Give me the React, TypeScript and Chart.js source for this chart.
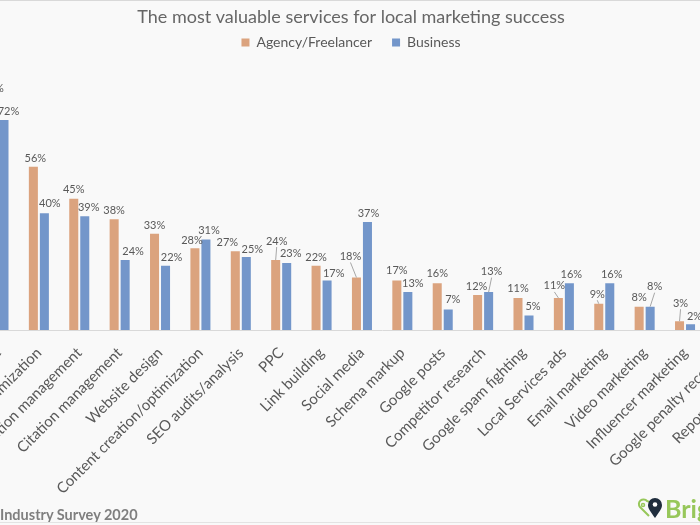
import React, { useEffect, useRef } from "react";
import { Chart, registerables } from "chart.js";

Chart.register(...registerables);

const titleText = "The most valuable services for local marketing success";
const seriesNames = ["Agency/Freelancer", "Business"];

const categories = [
  "Google My Business management",
  "Website optimization",
  "Reputation management",
  "Citation management",
  "Website design",
  "Content creation/optimization",
  "SEO audits/analysis",
  "PPC",
  "Link building",
  "Social media",
  "Schema markup",
  "Google posts",
  "Competitor research",
  "Google spam fighting",
  "Local Services ads",
  "Email marketing",
  "Video marketing",
  "Influencer marketing",
  "Google penalty recovery",
  "Reporting/analytics",
];

const agencyValues = [80, 56, 45, 38, 33, 28, 27, 24, 22, 18, 17, 16, 12, 11, 11, 9, 8, 3, 2, 1];
const businessValues = [72, 40, 39, 24, 22, 31, 25, 23, 17, 37, 13, 7, 13, 5, 16, 16, 8, 2, 2, 1];

// label placement (dx, distance above bar top) – presentation only
const agencyLabelShift = [
  [0, 8.5], [2, 8.5], [0, 9], [0, 9], [0, 8.5], [-3, 7.5], [-8, 8.3], [1, 19], [0, 8.7], [-6, 21],
  [0, 9.5], [0, 9.5], [-1, 8.7], [0, 9], [-4, 12], [-1.5, 9.5], [0, 9.3], [1, 18], [0, 8.5], [0, 8.5],
];
const businessLabelShift = [
  [4.5, 9], [5.5, 10], [4, 8.4], [8, 8.4], [6, 8.5], [3, 9], [6, 7.7], [4, 9.7], [6.6, 7], [1, 8.6],
  [5, 8.6], [4.5, 10.4], [3, 20.5], [4, 8.5], [2, 8.5], [2, 8.5], [4.5, 20], [4, 7.7], [4, 8.5], [4, 8.5],
];
const agencyLeader = [0, 0, 0, 0, 0, 0, 0, 1, 0, 1, 0, 0, 0, 0, 1, 1, 0, 1, 0, 0];
const businessLeader = [0, 0, 0, 0, 0, 0, 0, 0, 0, 0, 0, 0, 1, 0, 0, 0, 1, 0, 0, 0];

const labelShifts = [agencyLabelShift, businessLabelShift];
const leaderFlags = [agencyLeader, businessLeader];

const valueLabels = {
  id: "valueLabels",
  afterDatasetsDraw(chart: any) {
    const ctx = chart.ctx;
    ctx.save();
    ctx.font = "11px Lato";
    ctx.fillStyle = "#595959";
    ctx.textAlign = "center";
    ctx.textBaseline = "middle";
    ctx.strokeStyle = "#a6a6a6";
    ctx.lineWidth = 1;
    chart.data.datasets.forEach((ds: any, di: number) => {
      const meta = chart.getDatasetMeta(di);
      meta.data.forEach((bar: any, i: number) => {
        const [dx, dy] = labelShifts[di][i];
        const lx = bar.x + dx;
        const ly = bar.y - dy;
        ctx.fillText(ds.data[i] + "%", lx, ly);
        if (leaderFlags[di][i]) {
          ctx.beginPath();
          ctx.moveTo(lx, ly + 6);
          ctx.lineTo(bar.x, bar.y);
          ctx.stroke();
        }
      });
    });
    ctx.restore();
  },
};

export default function App() {
  const ref = useRef<HTMLCanvasElement>(null);
  useEffect(() => {
    if (!ref.current) return;
    const chart = new Chart(ref.current, {
      type: "bar",
      data: {
        labels: categories,
        datasets: [
          {
            label: seriesNames[0],
            data: agencyValues,
            backgroundColor: "#DBA37E",
            categoryPercentage: 0.545,
            barPercentage: 0.82,
          },
          {
            label: seriesNames[1],
            data: businessValues,
            backgroundColor: "#7396CA",
            categoryPercentage: 0.545,
            barPercentage: 0.82,
          },
        ],
      },
      options: {
        responsive: false,
        animation: false,
        layout: { padding: 0 },
        plugins: {
          title: {
            display: true,
            text: titleText,
            color: "#666666",
            font: { family: "Lato", size: 18, weight: "normal" },
            padding: { top: 6, bottom: -12 },
          },
          legend: {
            labels: {
              boxWidth: 8,
              boxHeight: 8,
              color: "#595959",
              font: { family: "Lato", size: 14 },
              padding: 20,
            },
          },
          tooltip: { enabled: false },
        },
        scales: {
          x: {
            grid: { display: false, drawTicks: false },
            border: { color: "#d9d9d9" },
            ticks: {
              autoSkip: false,
              maxRotation: 45,
              minRotation: 45,
              color: "#595959",
              font: { family: "Lato", size: 15 },
              padding: 14,
            },
            afterFit: (s: any) => {
              s.height = 195;
              s.paddingLeft = 0;
              s.paddingRight = 0;
            },
          },
          y: {
            min: 0,
            max: 92.7,
            grid: { display: false },
            border: { display: false },
            ticks: { display: false },
            afterFit: (s: any) => {
              s.width = 62.3;
            },
          },
        },
      },
      plugins: [valueLabels],
    });
    return () => chart.destroy();
  }, []);

  return (
    <div
      style={{
        position: "fixed",
        left: 0,
        top: 0,
        width: 700,
        height: 525,
        overflow: "hidden",
        background: "#f9f9f9",
      }}
    >
      <div style={{ position: "absolute", left: 0, top: 0, width: 700, height: 1, background: "#d9d9d9" }} />
      <canvas
        ref={ref}
        width={870}
        height={525}
        style={{ position: "absolute", left: -84, top: 0, display: "block" }}
      />
      <div
        style={{
          position: "absolute",
          left: 0,
          top: 508,
          fontFamily: "Lato",
          fontWeight: 700,
          fontSize: 14.5,
          lineHeight: 1,
          color: "#7f7f7f",
          whiteSpace: "nowrap",
        }}
      >
        Industry Survey 2020
      </div>
      <svg
        width="26"
        height="22"
        viewBox="0 0 26 22"
        style={{ position: "absolute", left: 637, top: 497 }}
      >
        <path
          d="M12 19 L3 10 A4.5 4.5 0 0 1 10 4 A4.5 4.5 0 0 1 12 5"
          fill="none"
          stroke="#97c75a"
          strokeWidth="2"
        />
        <circle cx="6" cy="8" r="1.5" fill="none" stroke="#97c75a" strokeWidth="1.5" />
        <path d="M18 21 C14 15 11 12 11 8 A7 7 0 0 1 25 8 C25 12 22 15 18 21 Z" fill="#1f2d3d" />
        <circle cx="18" cy="7.5" r="2.3" fill="#ffffff" />
      </svg>
      <div
        style={{
          position: "absolute",
          left: 665,
          top: 496,
          fontFamily: "Lato",
          fontWeight: 700,
          fontSize: 25,
          lineHeight: 1,
          color: "#97c75a",
          whiteSpace: "nowrap",
        }}
      >
        Brig
      </div>
      <div style={{ position: "absolute", left: 0, top: 522, width: 700, height: 1, background: "#e3e3e3" }} />
    </div>
  );
}
